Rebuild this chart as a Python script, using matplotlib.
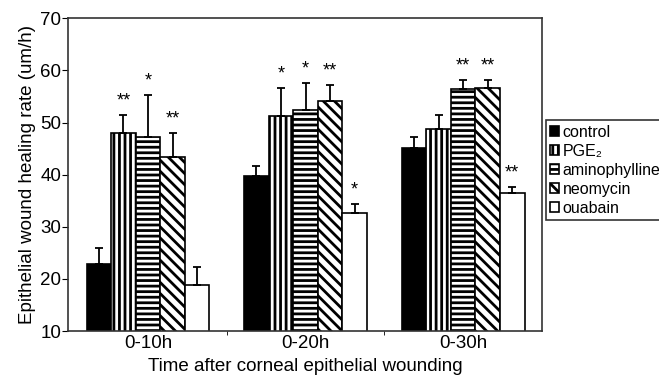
import matplotlib
matplotlib.use('Agg')
import matplotlib.pyplot as plt
import numpy as np

plt.rcParams['font.family'] = ['Liberation Sans', 'DejaVu Sans']
plt.rcParams['hatch.linewidth'] = 2.0

# data
groups = ['0-10h', '0-20h', '0-30h']
labels = ['control', 'PGE₂', 'aminophylline', 'neomycin', 'ouabain']
means = {
    'control':       [22.8, 39.8, 45.2],
    'PGE₂':          [47.9, 51.3, 48.7],
    'aminophylline': [47.2, 52.5, 56.5],
    'neomycin':      [43.4, 54.1, 56.7],
    'ouabain':       [18.8, 32.6, 36.5],
}
errors = {
    'control':       [3.1, 1.9, 2.1],
    'PGE₂':          [3.6, 5.4, 2.7],
    'aminophylline': [8.0, 5.0, 1.6],
    'neomycin':      [4.5, 3.1, 1.4],
    'ouabain':       [3.4, 1.8, 1.2],
}
stars = {
    'control':       ['', '', ''],
    'PGE₂':          ['**', '*', ''],
    'aminophylline': ['*', '*', '**'],
    'neomycin':      ['**', '**', '**'],
    'ouabain':       ['', '*', '**'],
}

# bar styles
colors = {'control': 'black', 'PGE₂': 'white', 'aminophylline': 'white',
          'neomycin': 'white', 'ouabain': 'white'}
hatches = {'control': None, 'PGE₂': '|||', 'aminophylline': '---',
           'neomycin': '\\\\\\', 'ouabain': None}

fig = plt.figure(figsize=(6.59, 3.78), dpi=100)
ax = fig.add_axes([0.1036, 0.1243, 0.7194, 0.8273])

x = np.arange(len(groups))
w = 0.156
for i, name in enumerate(labels):
    pos = x + (i - 2) * w
    ax.bar(pos, means[name], w, bottom=0, color=colors[name], edgecolor='black',
           hatch=hatches[name], linewidth=1.2, label=name, zorder=2)
    ax.errorbar(pos, means[name], yerr=[np.zeros(3), errors[name]], fmt='none',
                ecolor='black', elinewidth=1.3, capsize=3, capthick=1.3, zorder=3)
    for j in range(len(groups)):
        if stars[name][j]:
            top = means[name][j] + errors[name][j]
            ax.annotate(stars[name][j], (pos[j], top), xytext=(0, 4),
                        textcoords='offset points', ha='center', va='bottom',
                        fontsize=13)

ax.set_ylim(10, 70)
ax.set_xlim(-0.506, 2.503)
ax.set_yticks(range(10, 71, 10))
ax.set_xticks(x)
ax.set_xticklabels(groups, fontsize=13.5)
ax.set_xticks([0.5, 1.5], minor=True)
ax.tick_params(axis='x', which='major', length=0, pad=3)
ax.tick_params(axis='x', which='minor', length=3, direction='out')
ax.tick_params(axis='y', length=4, direction='out', labelsize=13.5, pad=1)
for s in ax.spines.values():
    s.set_linewidth(1.2)
    s.set_color('#333333')

ax.set_xlabel('Time after corneal epithelial wounding', fontsize=13.5, labelpad=4)
ax.set_ylabel('Epithelial wound healing rate (um/h)', fontsize=13.5, labelpad=3)

leg = fig.legend(loc='upper left', bbox_to_anchor=(0.828, 0.683), fontsize=11.5,
                 handlelength=0.55, handleheight=0.55, handletextpad=0.2,
                 labelspacing=0.25, borderpad=0.3, borderaxespad=0,
                 frameon=True, fancybox=False, edgecolor='black')
leg.get_frame().set_linewidth(1.2)

fig.savefig('out.png', dpi=100)
